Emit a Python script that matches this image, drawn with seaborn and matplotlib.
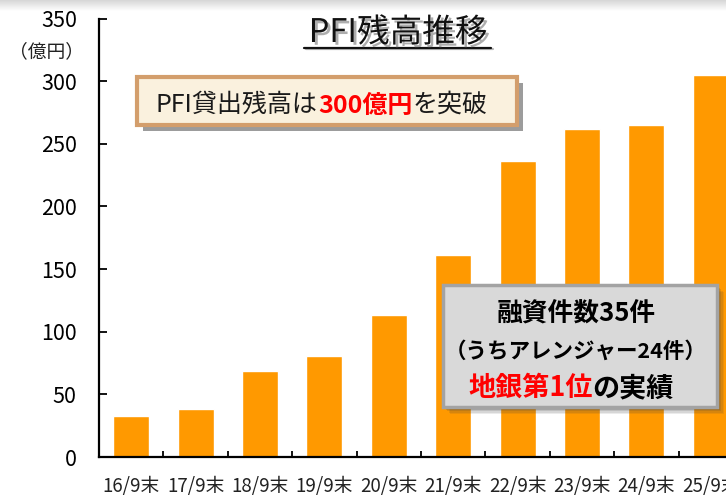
import numpy as np
import pandas as pd
import matplotlib
matplotlib.use("Agg")
import matplotlib.pyplot as plt
import seaborn as sns
from matplotlib.patches import Rectangle
from matplotlib.lines import Line2D
from matplotlib.text import Annotation
import matplotlib.patheffects as pe

# ---------------- data ----------------
categories = ["16/9末", "17/9末", "18/9末", "19/9末", "20/9末",
              "21/9末", "22/9末", "23/9末", "24/9末", "25/9末"]
balances = [32.5, 38, 69, 81, 113, 161, 236, 262, 265, 305]
y_ticks = [0, 50, 100, 150, 200, 250, 300, 350]
title_text = "PFI残高推移"
unit_text = "（億円）"
callout_parts = [("PFI貸出残高は", "#1a1a1a", "normal"),
                 ("300億円", "#ff0000", "bold"),
                 ("を突破", "#1a1a1a", "normal")]
note_line1 = "融資件数35件"
note_line2 = "（うちアレンジャー24件）"
note_line3 = [("地銀第1位", "#ff0000"), ("の実績", "#000000")]

# ---------------- style ----------------
sns.set_theme(style="white")
plt.rcParams["font.family"] = ["Noto Sans CJK JP", "DejaVu Sans"]

W, H = 726, 496
fig = plt.figure(figsize=(W / 100, H / 100), dpi=100)
fig.patch.set_facecolor("white")


def fx(x):
    return x / W


def fy(y):
    return 1 - y / H


# top gray band
band = fig.add_axes([0, fy(11), 1, 11 / H], zorder=-5)
grad = np.linspace(0, 1, 50).reshape(-1, 1)
band.imshow(grad, aspect="auto", cmap=matplotlib.colors.LinearSegmentedColormap.from_list(
    "g", ["#d6d6d6", "#ffffff"]), extent=[0, 1, 0, 1], origin="upper")
band.axis("off")

# main axes
ax = fig.add_axes([fx(99), fy(457), 644 / W, (457 - 18.5) / H])
df = pd.DataFrame({"period": categories, "balance": balances})
sns.barplot(data=df, x="period", y="balance", color="#ff9900", saturation=1,
            width=0.56, ax=ax)
ax.set_xlim(-0.5, len(categories) - 0.5)
ax.set_ylim(0, 350)
ax.set_xlabel("")
ax.set_ylabel("")
ax.grid(False)
for s in ["top", "right"]:
    ax.spines[s].set_visible(False)
for s in ["left", "bottom"]:
    ax.spines[s].set_color("black")
    ax.spines[s].set_linewidth(1.6)

ax.set_yticks(y_ticks)
ax.set_yticklabels([str(v) for v in y_ticks])
ax.tick_params(axis="y", direction="in", length=6, width=1.3, pad=16,
               labelsize=15.5, colors="black", left=True)
ax.set_xticks(np.arange(0.5, len(categories) - 0.5, 1))
ax.set_xticklabels([])
ax.tick_params(axis="x", which="major", direction="in", length=4.5, width=1.3,
               bottom=True, colors="black")
ax.set_xticks(np.arange(len(categories)), labels=categories, minor=True)
ax.tick_params(axis="x", which="minor", length=0, pad=14, labelsize=13.5,
               labelcolor="#222222")

# unit label
fig.text(fx(47), fy(52), unit_text, ha="center", va="center", fontsize=13.5,
         color="#222222")

# title with shadow + underline
t = fig.text(fx(398), fy(33), title_text, ha="center", va="center", fontsize=23.5,
             color="#111111",
             path_effects=[pe.withSimplePatchShadow(offset=(2, -2), shadow_rgbFace="#777777", alpha=0.6)])
fig.add_artist(Line2D([fx(306), fx(493)], [fy(49), fy(49)], transform=fig.transFigure,
                      color="#888888", lw=1.6, alpha=0.6))
fig.add_artist(Line2D([fx(304), fx(491)], [fy(47.5), fy(47.5)], transform=fig.transFigure,
                      color="#111111", lw=1.6))

# callout box 1
fig.add_artist(Rectangle((fx(143), fy(131)), (517 - 137) / W, (125 - 77) / H,
                         transform=fig.transFigure, fc="#9c9c9c", ec="none"))
fig.add_artist(Rectangle((fx(137), fy(125)), (517 - 137) / W, (125 - 77) / H,
                         transform=fig.transFigure, fc="#faf1de", ec="#d39e6c", lw=3))
last = None
for txt, col, wt in callout_parts:
    if last is None:
        last = fig.text(fx(156), fy(112), txt, ha="left", va="baseline",
                        fontsize=18, color=col, fontweight=wt)
    else:
        last = fig.add_artist(Annotation(
            txt, xy=(1, 0), xycoords=last, va="bottom", ha="left",
            fontsize=18, color=col, fontweight=wt))

# gray note box with soft shadow
for i, a in enumerate([0.10, 0.12, 0.15, 0.2]):
    off = 7 - i * 1.5
    fig.add_artist(Rectangle((fx(443 + off), fy(407 + off)), (717 - 443) / W, (407 - 285) / H,
                             transform=fig.transFigure, fc="#404040", ec="none", alpha=a))
fig.add_artist(Rectangle((fx(443), fy(407)), (717 - 443) / W, (407 - 285) / H,
                         transform=fig.transFigure, fc="#d9d9d9", ec="#a3a3a3", lw=2.5))
fig.text(fx(576), fy(314), note_line1, ha="center", va="center", fontsize=18.5,
         fontweight="bold", color="black")
fig.text(fx(576), fy(351), note_line2, ha="center", va="center", fontsize=15.5,
         fontweight="bold", color="black")
first = fig.text(fx(468), fy(396), note_line3[0][0], ha="left", va="baseline",
                 fontsize=19.5, fontweight="bold", color=note_line3[0][1])
fig.add_artist(Annotation(
    note_line3[1][0], xy=(1, 0), xycoords=first, va="bottom", ha="left",
    fontsize=19.5, fontweight="bold", color=note_line3[1][1]))

fig.savefig("out.png", dpi=100)
